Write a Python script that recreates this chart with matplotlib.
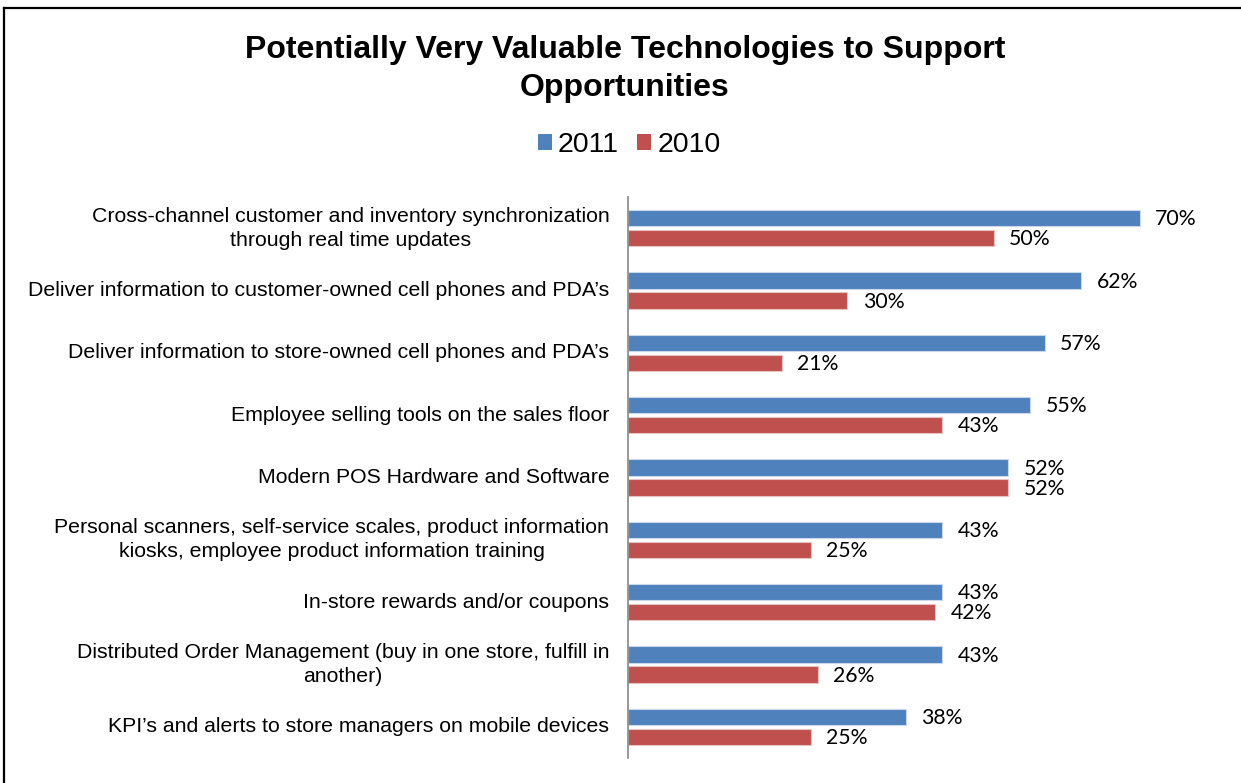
import matplotlib
matplotlib.use("Agg")
import matplotlib.pyplot as plt
from matplotlib.patches import Patch
from matplotlib.lines import Line2D
import numpy as np

categories = [
    "Cross-channel customer and inventory synchronization\nthrough real time updates",
    "Deliver information to customer-owned cell phones and PDA\u2019s",
    "Deliver information to store-owned cell phones and PDA\u2019s",
    "Employee selling tools on the sales floor",
    "Modern POS Hardware and Software",
    "Personal scanners, self-service scales, product information\nkiosks, employee product information training",
    "In-store rewards and/or coupons",
    "Distributed Order Management (buy in one store, fulfill in\nanother)",
    "KPI\u2019s and alerts to store managers on mobile devices",
]
values_2011 = [70, 62, 57, 55, 52, 43, 43, 43, 38]
values_2010 = [50, 30, 21, 43, 52, 25, 42, 26, 25]
series_names = ["2011", "2010"]

blue = "#4F81BD"
red = "#C0504D"

W, H = 1241, 783
fig = plt.figure(figsize=(W / 100, H / 100), dpi=100)
fig.patch.set_facecolor("white")

ax = fig.add_axes([628 / W, 1 - 758 / H, 585 / W, (758 - 197) / H])

y = np.arange(len(categories))
bh = 0.265
off = 0.16
ax.barh(y - off, values_2011, height=bh, color=blue, edgecolor="#C9D7EA", linewidth=0.8)
ax.barh(y + off, values_2010, height=bh, color=red, edgecolor="#E6C3C2", linewidth=0.8)

ax.set_xlim(0, 80)
ax.set_ylim(len(categories) - 0.5, -0.5)

for yi, v in zip(y, values_2011):
    ax.text(v + 2.1, yi - off + 0.02, f"{v}%", va="center", ha="left", fontsize=15.3,
            family="Lato", color="black")
for yi, v in zip(y, values_2010):
    ax.text(v + 2.1, yi + off + 0.02, f"{v}%", va="center", ha="left", fontsize=15.3,
            family="Lato", color="black")

ax.set_yticks(y)
ax.set_yticklabels(categories, family="Liberation Sans", fontsize=15.3,
                   multialignment="center", linespacing=1.32, va="center")
ax.tick_params(axis="y", length=0, pad=13.5)
ax.set_xticks([])
for s in ["top", "right", "bottom"]:
    ax.spines[s].set_visible(False)
ax.spines["left"].set_color("#868686")
ax.spines["left"].set_linewidth(1.2)

fig.text(625 / W, 1 - 69 / H,
         "Potentially Very Valuable Technologies to Support\nOpportunities",
         ha="center", va="center", fontsize=23, fontweight="bold",
         family="Liberation Sans", linespacing=1.32)

handles = [Patch(facecolor=blue, edgecolor="none"), Patch(facecolor=red, edgecolor="none")]
fig.legend(handles, series_names, loc="center", bbox_to_anchor=(629 / W, 1 - 145 / H),
           ncol=2, frameon=False, prop={"family": "Liberation Sans", "size": 20.5},
           handlelength=0.5, handleheight=0.5, handletextpad=0.22, columnspacing=0.62)

# outer frame (top and left edges visible)
fig.add_artist(Line2D([4 / W, 1], [1 - 8 / H, 1 - 8 / H], color="black", linewidth=1.6,
                      transform=fig.transFigure))
fig.add_artist(Line2D([4 / W, 4 / W], [0, 1 - 8 / H], color="black", linewidth=1.6,
                      transform=fig.transFigure))

fig.savefig("out.png", dpi=100)
